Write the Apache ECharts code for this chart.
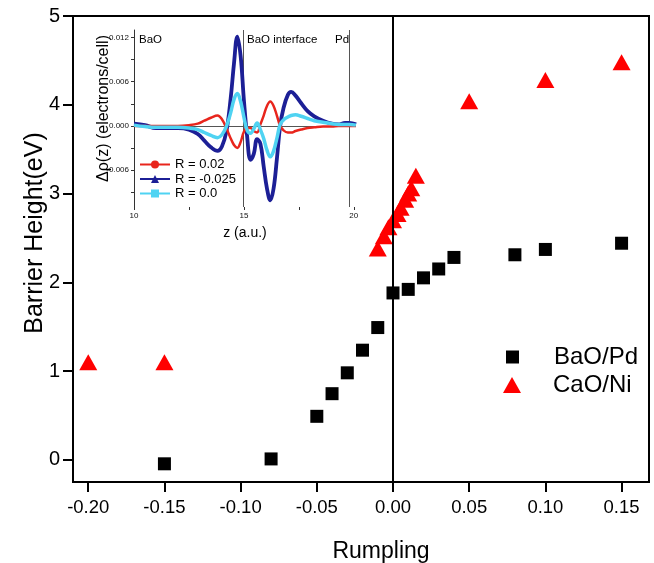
<!DOCTYPE html>
<html>
<head>
<meta charset="utf-8">
<script src="https://cdn.jsdelivr.net/npm/echarts@6/dist/echarts.min.js"></script>
<style>
  html, body { margin: 0; padding: 0; background: #fff; }
  #chart { width: 654px; height: 563px; }
</style>
</head>
<body>
<div id="chart"></div>
<script>
// Barrier height versus rumpling for two oxide/metal interfaces
const baoPdRumpling = [-0.15, -0.08, -0.05, -0.04, -0.03, -0.02, -0.01, 0.0, 0.01, 0.02, 0.03, 0.04, 0.08, 0.10, 0.15];
const baoPdBarrier  = [-0.045, 0.01, 0.49, 0.745, 0.98, 1.235, 1.49, 1.88, 1.92, 2.05, 2.15, 2.28, 2.31, 2.37, 2.44];

const caoNiRumpling = [-0.2, -0.15, -0.01, -0.006, -0.003, 0.0, 0.003, 0.005, 0.008, 0.01, 0.012, 0.015, 0.05, 0.10, 0.15];
const caoNiBarrier  = [1.1, 1.1, 2.38, 2.52, 2.62, 2.7, 2.77, 2.84, 2.93, 3.0, 3.06, 3.2, 4.04, 4.28, 4.48];

const rumplingTicks = [-0.20, -0.15, -0.10, -0.05, 0.00, 0.05, 0.10, 0.15];
const barrierTicks  = [0, 1, 2, 3, 4, 5];

// Inset: planar-averaged charge density difference across the BaO/Pd interface
const zGrid = [10, 10.5, 11, 11.5, 12, 12.5, 12.9, 13.2, 13.5, 13.8, 14.0, 14.2, 14.4, 14.55, 14.7, 14.85,
  15.0, 15.15, 15.3, 15.45, 15.6, 15.75, 15.9, 16.05, 16.2, 16.35, 16.5, 16.65, 16.8, 17.0, 17.15, 17.35,
  17.6, 17.9, 18.2, 18.6, 19.0, 19.3, 19.6, 19.8, 20.1];
const rhoR002 = [0, 0, 0, 0, 0, 0.0001, 0.0003, 0.0007, 0.0011, 0.0014, 0.0009, -0.0003, -0.0017, -0.0026, -0.003, -0.0022,
  -0.0008, -0.0003, -0.0003, -0.0007, -0.0009, 0.0002, 0.0014, 0.0027, 0.0033, 0.0027, 0.0014, 0.0, -0.0006, -0.0009, -0.0009, -0.0007,
  -0.0005, -0.0003, -0.0002, -0.0001, -0.0001, 0, 0, 0, 0];
const rhoRm0025 = [0.0003, 0.0001, -0.0003, -0.0003, -0.0003, -0.0005, -0.0011, -0.002, -0.0029, -0.0034, -0.0028, -0.0008, 0.0038, 0.0085, 0.0121, 0.0095,
  0.0035, -0.0015, -0.0046, -0.0038, -0.0018, -0.0024, -0.0055, -0.0085, -0.0101, -0.0085, -0.0045, 0.0, 0.0024, 0.0042, 0.0046, 0.0041,
  0.0031, 0.002, 0.0013, 0.0007, 0.0003, 0.0002, 0.0004, 0.0004, 0.0002];
const rhoR0 = [0.0001, -0.0001, -0.0002, -0.0002, -0.0002, -0.0003, -0.0005, -0.0009, -0.0013, -0.0016, -0.0012, -0.0001, 0.0018, 0.0036, 0.0044, 0.0033,
  0.0012, -0.0006, -0.001, -0.0004, 0.0004, -0.0005, -0.0017, -0.0033, -0.0042, -0.0034, -0.0017, 0.0002, 0.0008, 0.0012, 0.0014, 0.0015,
  0.0013, 0.001, 0.0007, 0.0005, 0.0003, 0.0002, 0.0002, 0.0002, 0.0001];
const zTicks = [10, 12.5, 15, 17.5, 20];
const zLabels = [10, 15, 20];
const rhoTicks = [-0.009, -0.006, -0.003, 0, 0.003, 0.006, 0.009, 0.012];
const rhoLabels = [-0.006, 0, 0.006, 0.012];
const regionBounds = [14.95, 19.8];

const FONT = '"Liberation Sans", Arial, Helvetica, sans-serif';
const pairs = (xs, ys) => xs.map((x, i) => [x, ys[i]]);

const chart = echarts.init(document.getElementById('chart'), null, { renderer: 'canvas' });

chart.setOption({
  backgroundColor: '#ffffff',
  animation: false,
  textStyle: { fontFamily: FONT },
  grid: [
    { left: 73, right: 5, top: 16, bottom: 81, show: true, borderColor: '#000', borderWidth: 2,
      backgroundColor: 'transparent', containLabel: false, outerBoundsMode: 'none' },
    { left: 134, width: 222, top: 30, height: 177, show: false, containLabel: false, outerBoundsMode: 'none' }
  ],
  legend: [
    {
      data: ['BaO/Pd'], left: 501, top: 340, itemWidth: 13, itemHeight: 13,
      textStyle: { fontSize: 24, color: '#000', fontFamily: FONT, padding: [0, 0, 0, 30] }
    },
    {
      data: ['CaO/Ni'], left: 498, top: 368, itemWidth: 18, itemHeight: 16,
      textStyle: { fontSize: 24, color: '#000', fontFamily: FONT, padding: [0, 0, 0, 27] }
    },
    {
      data: ['R = 0.02', 'R = -0.025', 'R = 0.0'], orient: 'vertical', left: 134, top: 153,
      itemWidth: 30, itemHeight: 10, itemGap: 1.5,
      textStyle: { fontSize: 13, color: '#000', fontFamily: FONT }
    }
  ],
  xAxis: [
    {
      gridIndex: 0, type: 'value', min: -0.21, max: 0.168,
      name: 'Rumpling', nameLocation: 'middle', nameGap: 58, nameMoveOverlap: false,
      nameTextStyle: { fontSize: 23, color: '#000', fontFamily: FONT, padding: [0, 0, 0, 40] },
      axisLine: { show: true, onZero: false, lineStyle: { color: '#000', width: 2 } },
      axisTick: { show: true, inside: false, length: 10, lineStyle: { color: '#000', width: 2 }, customValues: rumplingTicks },
      axisLabel: { customValues: rumplingTicks, margin: 16, fontSize: 18.5, color: '#000', fontFamily: FONT,
        formatter: v => v.toFixed(2) },
      splitLine: { show: false }
    },
    {
      gridIndex: 1, type: 'value', min: 10, max: 20.1,
      name: 'z (a.u.)', nameLocation: 'middle', nameGap: 19, nameMoveOverlap: false,
      nameTextStyle: { fontSize: 14, color: '#000', fontFamily: FONT },
      axisLine: { show: false, onZero: false },
      axisTick: { show: true, length: 3, lineStyle: { color: '#333', width: 1 }, customValues: zTicks },
      axisLabel: { customValues: zLabels, margin: 5, fontSize: 8, color: '#111', fontFamily: FONT },
      splitLine: { show: false }
    }
  ],
  yAxis: [
    {
      gridIndex: 0, type: 'value', min: -0.25, max: 5,
      name: 'Barrier Height(eV)', nameLocation: 'middle', nameGap: 25, nameMoveOverlap: false,
      nameTextStyle: { fontSize: 25, color: '#000', fontFamily: FONT, padding: [0, 0, 0, 32] },
      axisLine: { show: true, onZero: false, lineStyle: { color: '#000', width: 2 } },
      axisTick: { show: true, inside: false, length: 10, lineStyle: { color: '#000', width: 2 }, customValues: barrierTicks },
      axisLabel: { customValues: barrierTicks, margin: 13, fontSize: 20, color: '#000', fontFamily: FONT },
      splitLine: { show: false }
    },
    {
      gridIndex: 1, type: 'value', min: -0.011, max: 0.013,
      name: 'Δρ(z) (electrons/cell)', nameLocation: 'middle', nameGap: 22, nameMoveOverlap: false,
      nameTextStyle: { fontSize: 16, color: '#000', fontFamily: FONT, padding: [0, 0, 0, 20] },
      axisLine: { show: true, onZero: false, lineStyle: { color: '#333', width: 1 } },
      axisTick: { show: true, inside: false, length: 3, lineStyle: { color: '#333', width: 1 }, customValues: rhoTicks },
      axisLabel: { customValues: rhoLabels, margin: 5, fontSize: 8, color: '#111', fontFamily: FONT,
        formatter: v => v.toFixed(3) },
      splitLine: { show: false }
    }
  ],
  graphic: [
    { type: 'text', left: 139, top: 33.5, z: 20, style: { text: 'BaO', fontSize: 11.5, fontFamily: FONT, fill: '#000' } },
    { type: 'text', left: 247, top: 33.5, z: 20, style: { text: 'BaO interface', fontSize: 11.5, fontFamily: FONT, fill: '#000' } },
    { type: 'text', left: 335, top: 33.5, z: 20, style: { text: 'Pd', fontSize: 11.5, fontFamily: FONT, fill: '#000' } }
  ],
  series: [
    {
      name: 'BaO/Pd', type: 'scatter', xAxisIndex: 0, yAxisIndex: 0,
      symbol: 'rect', symbolSize: 13,
      itemStyle: { color: '#000', opacity: 1 },
      data: pairs(baoPdRumpling, baoPdBarrier),
      markLine: {
        silent: true, symbol: 'none', label: { show: false },
        lineStyle: { color: '#000', width: 2, type: 'solid' },
        data: [{ xAxis: 0 }]
      },
      z: 3
    },
    {
      name: 'CaO/Ni', type: 'scatter', xAxisIndex: 0, yAxisIndex: 0,
      symbol: 'triangle', symbolSize: [18, 16], symbolKeepAspect: false,
      itemStyle: { color: '#ff0000', opacity: 1 },
      data: pairs(caoNiRumpling, caoNiBarrier),
      z: 4
    },
    {
      name: 'R = 0.02', type: 'line', xAxisIndex: 1, yAxisIndex: 1,
      smooth: 0.4, showSymbol: false, symbol: 'circle', symbolSize: 5,
      lineStyle: { color: '#e8251c', width: 2.5 }, itemStyle: { color: '#e8251c' },
      data: pairs(zGrid, rhoR002),
      markLine: {
        silent: true, symbol: 'none', label: { show: false },
        lineStyle: { color: '#555', width: 1, type: 'solid' },
        data: [{ yAxis: 0 }, { xAxis: regionBounds[0] }, { xAxis: regionBounds[1] }]
      },
      z: 6
    },
    {
      name: 'R = -0.025', type: 'line', xAxisIndex: 1, yAxisIndex: 1,
      smooth: 0.4, showSymbol: false, symbol: 'triangle', symbolSize: 6,
      lineStyle: { color: '#1c1f96', width: 3.8 }, itemStyle: { color: '#1c1f96' },
      data: pairs(zGrid, rhoRm0025),
      z: 5
    },
    {
      name: 'R = 0.0', type: 'line', xAxisIndex: 1, yAxisIndex: 1,
      smooth: 0.4, showSymbol: false, symbol: 'rect', symbolSize: 5,
      lineStyle: { color: '#4fd3f2', width: 3.5 }, itemStyle: { color: '#4fd3f2' },
      data: pairs(zGrid, rhoR0),
      z: 7
    }
  ]
});
</script>
</body>
</html>
